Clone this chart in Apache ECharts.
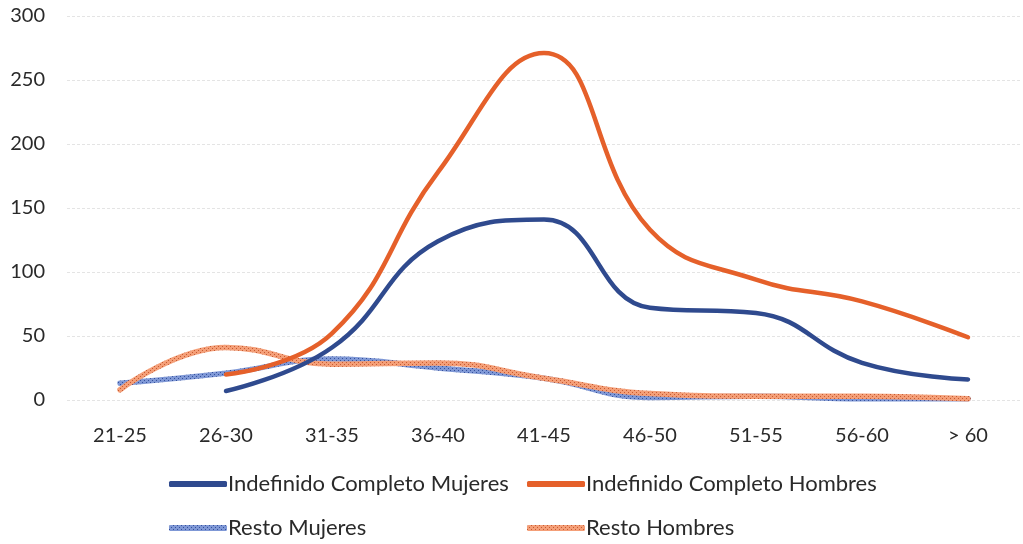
<!DOCTYPE html>
<html><head><meta charset="utf-8">
<script src="https://cdn.jsdelivr.net/npm/echarts@6/dist/echarts.min.js"></script>
<style>html,body{margin:0;padding:0;background:#fff}#c{width:1023px;height:544px}</style>
</head><body><div id="c"></div>
<script>
const categories = ['21-25','26-30','31-35','36-40','41-45','46-50','51-55','56-60','> 60'];
const yTicks = [0,50,100,150,200,250,300];
const icMujeres = [null, 7, 41, 124, 141, 72, 68, 29, 16];
const icHombres = [null, 20, 52, 178, 271, 133, 94, 77, 49];
const restoMujeres = [13, 21, 32, 25, 17, 2, 3, 1, 1];
const restoHombres = [8, 41, 28, 29, 17, 5, 3, 3, 1];

function pattern(base, dot){
  const c = document.createElement('canvas'); c.width = 4; c.height = 4;
  const g = c.getContext('2d');
  g.fillStyle = base; g.fillRect(0,0,4,4);
  g.fillStyle = dot; g.fillRect(0,0,1,1); g.fillRect(2,2,1,1);
  return {image: c, repeat: 'repeat'};
}
const pBlue = pattern('#7f98d6', '#34509c');
const pOrange = pattern('#f49f78', '#c85a30');

const font = 'Lato, "Open Sans", sans-serif';
const chart = echarts.init(document.getElementById('c'));
function ser(name, data, color, z, w){
  return {name, type:'line', data, smooth:0.45, showSymbol:false, symbol:'none', z,
    lineStyle:{width:w, color, cap:'round'}, itemStyle:{color}};
}
const legendText = {fontSize:22, fontFamily:font, color:'#2a2a2a', padding:[0,0,0,-4]};
chart.setOption({
  animation:false,
  grid:{left:67, right:2, top:16, bottom:144},
  xAxis:{type:'category', data:categories, boundaryGap:true,
    axisLine:{show:false}, axisTick:{show:false},
    axisLabel:{color:'#2a2a2a', fontSize:20, fontFamily:font, margin:26}},
  yAxis:{type:'value', min:yTicks[0], max:yTicks[yTicks.length-1], interval:50,
    axisLine:{show:false}, axisTick:{show:false},
    axisLabel:{color:'#2a2a2a', fontSize:20, fontFamily:font, margin:22},
    splitLine:{lineStyle:{color:'#e4e4e4', type:[3,2], width:1}}},
  legend:[
    {orient:'vertical', left:164, top:468, itemGap:22, itemWidth:58, itemHeight:6, icon:'roundRect',
     textStyle:legendText, data:['Indefinido Completo Mujeres','Resto Mujeres']},
    {orient:'vertical', left:522, top:468, itemGap:22, itemWidth:58, itemHeight:6, icon:'roundRect',
     textStyle:legendText, data:['Indefinido Completo Hombres','Resto Hombres']}
  ],
  series:[
    ser('Indefinido Completo Mujeres', icMujeres, '#2f4a8e', 4, 4.5),
    ser('Indefinido Completo Hombres', icHombres, '#e5602a', 5, 4.5),
    ser('Resto Mujeres', restoMujeres, pBlue, 2, 5.5),
    ser('Resto Hombres', restoHombres, pOrange, 3, 5.5)
  ]
});
</script></body></html>
